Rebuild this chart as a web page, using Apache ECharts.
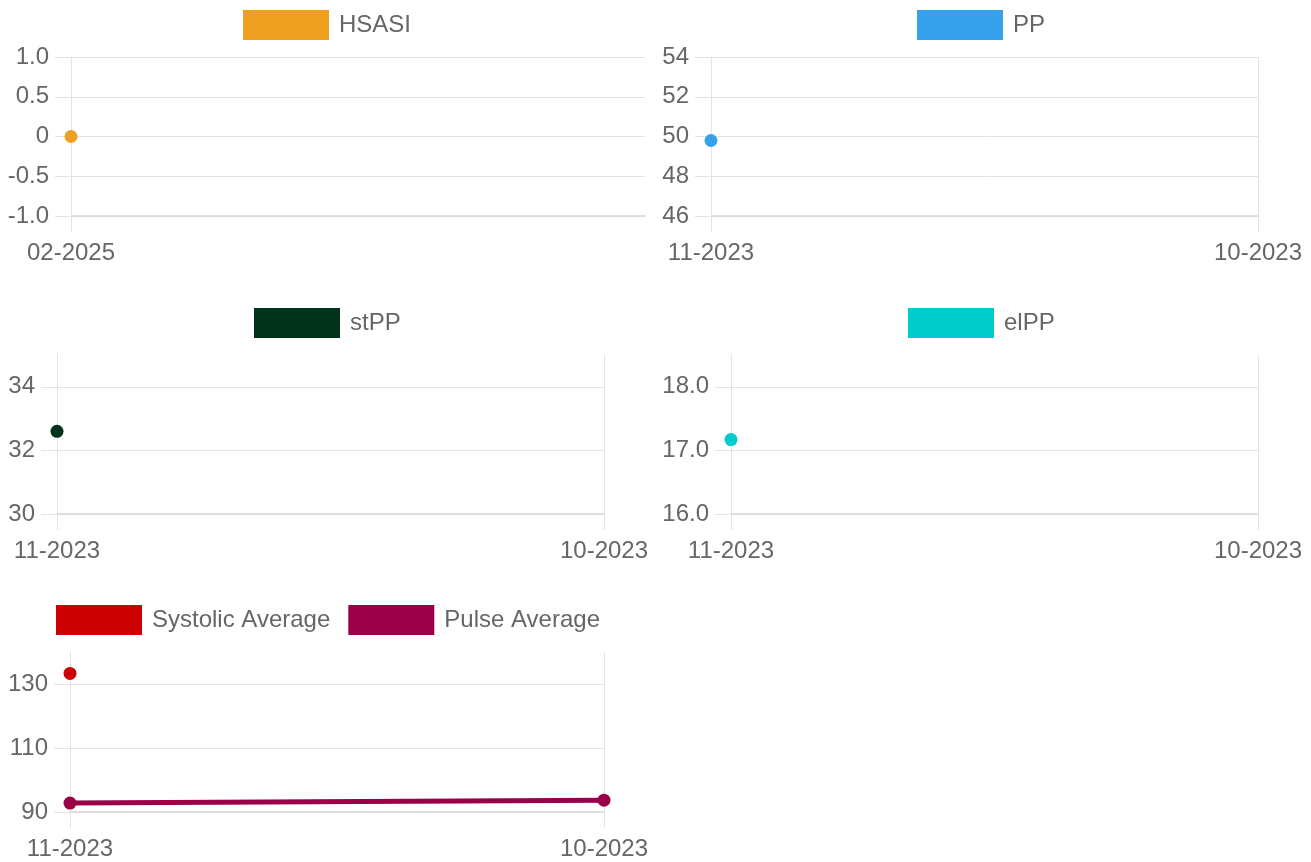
<!DOCTYPE html>
<html>
<head>
<meta charset="utf-8">
<script src="https://cdn.jsdelivr.net/npm/echarts@6/dist/echarts.min.js"></script>
<style>
html,body{margin:0;padding:0;background:#fff;}
#chart{width:1311px;height:862px;}
</style>
</head>
<body>
<div id="chart"></div>
<script>
// ---- data ----
const hsasiCategories = ['02-2025'];
const hsasiValues = [0];

const ppCategories = ['11-2023', '10-2023'];
const ppValues = [49.8, null];

const stppCategories = ['11-2023', '10-2023'];
const stppValues = [32.6, null];

const elppCategories = ['11-2023', '10-2023'];
const elppValues = [17.17, null];

const bpCategories = ['11-2023', '10-2023'];
const systolicValues = [133.3, null];
const pulseValues = [92.8, 93.7];

// ---- styling ----
const FONT = 'Liberation Sans, Arial, sans-serif';
const TXT = '#666666';
const GRID = '#e3e3e3';
const AXIS = '#d9d9d9';

function xAx(idx, cats, extra) {
  const a = {
    type: 'category', gridIndex: idx, data: cats, boundaryGap: false,
    axisLine: { show: true, onZero: false, lineStyle: { color: AXIS, width: 1.5 } },
    axisTick: { show: true, length: 16, alignWithLabel: true, lineStyle: { color: GRID } },
    splitLine: { show: true, lineStyle: { color: GRID, width: 1 } },
    axisLabel: { color: TXT, fontFamily: FONT, fontSize: 24, margin: 25, showMaxLabel: true, hideOverlap: false, interval: 0 }
  };
  return Object.assign(a, extra || {});
}
function yAx(idx, min, max, interval, fmt, colors) {
  return {
    type: 'value', gridIndex: idx, min: min, max: max, interval: interval,
    axisLine: { show: true, lineStyle: { color: GRID } },
    axisTick: { show: true, length: 16, lineStyle: { color: colors || GRID } },
    splitLine: { show: true, lineStyle: { color: colors || GRID, width: 1 } },
    axisLabel: { color: TXT, fontFamily: FONT, fontSize: 24, margin: 22, formatter: fmt, showMaxLabel: !colors }
  };
}
function ser(name, idx, data, color) {
  return {
    name: name, type: 'line', xAxisIndex: idx, yAxisIndex: idx, data: data,
    symbol: 'circle', symbolSize: 13, showSymbol: true, connectNulls: false,
    itemStyle: { color: color },
    lineStyle: { color: color, width: 5 },
    emphasis: { disabled: true }
  };
}
function leg(names, left, top) {
  return {
    data: names, left: left, top: top, icon: 'rect', padding: 0,
    itemWidth: 86, itemHeight: 30, itemGap: 18,
    textStyle: { color: TXT, fontFamily: FONT, fontSize: 24, padding: [0, 0, 0, 5] },
    selectedMode: false
  };
}

const firstOnly = (i) => i === 0;
const option = {
  animation: false,
  backgroundColor: '#ffffff',
  legend: [
    leg(['HSASI'], 243, 10),
    leg(['PP'], 917, 10),
    leg(['stPP'], 254, 308),
    leg(['elPP'], 908, 308),
    leg(['Systolic Average', 'Pulse Average'], 56, 605)
  ],
  grid: [
    { left: 71, width: 574, top: 57, height: 159 },
    { left: 711, width: 547, top: 57, height: 159 },
    { left: 57, width: 547, top: 355, height: 159 },
    { left: 731, width: 527, top: 355, height: 159 },
    { left: 70, width: 534, top: 652, height: 160 }
  ],
  xAxis: [
    xAx(0, hsasiCategories, {
      min: 0, max: 1,
      splitLine: { show: true, interval: firstOnly, lineStyle: { color: GRID, width: 1 } },
      axisTick: { show: true, length: 16, interval: firstOnly, lineStyle: { color: GRID } }
    }),
    xAx(1, ppCategories),
    xAx(2, stppCategories),
    xAx(3, elppCategories),
    xAx(4, bpCategories)
  ],
  yAxis: [
    yAx(0, -1, 1, 0.5, v => v === 0 ? '0' : v.toFixed(1)),
    yAx(1, 46, 54, 2, v => String(v)),
    yAx(2, 30, 35, 2, v => String(v), [GRID, GRID, GRID, 'rgba(0,0,0,0)']),
    yAx(3, 16, 18.5, 1, v => v.toFixed(1), [GRID, GRID, GRID, 'rgba(0,0,0,0)']),
    yAx(4, 90, 140, 20, v => String(v), [GRID, GRID, GRID, 'rgba(0,0,0,0)'])
  ],
  series: [
    ser('HSASI', 0, hsasiValues, '#f0a020'),
    ser('PP', 1, ppValues, '#36a2eb'),
    ser('stPP', 2, stppValues, '#00331a'),
    ser('elPP', 3, elppValues, '#00cccc'),
    ser('Systolic Average', 4, systolicValues, '#cc0000'),
    ser('Pulse Average', 4, pulseValues, '#990047')
  ]
};
const chart = echarts.init(document.getElementById('chart'), null, { renderer: 'canvas' });
chart.setOption(option);
</script>
</body>
</html>
